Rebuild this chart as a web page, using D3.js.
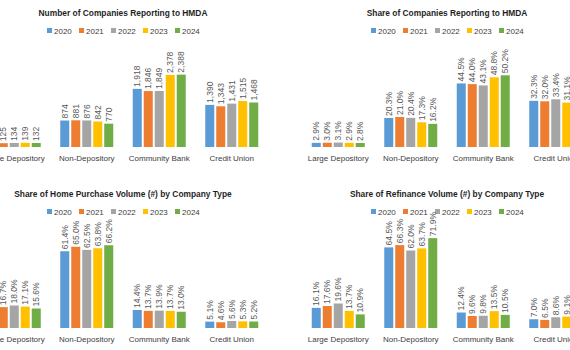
<!DOCTYPE html>
<html>
<head>
<meta charset="utf-8">
<script src="https://cdn.jsdelivr.net/npm/d3@7"></script>
<style>
  body { margin: 0; background: #fff; }
  svg { display: block; font-family: 'Liberation Sans', Arial, sans-serif; }
</style>
</head>
<body>
<svg id="chart" width="570" height="350"></svg>
<script>
// categories and years shared by all four charts
const categories = ['Large Depository', 'Non-Depository', 'Community Bank', 'Credit Union']
const years = ['2020', '2021', '2022', '2023', '2024']
const yearColors = ['#5B9BD5', '#ED7D31', '#A5A5A5', '#FFC000', '#70AD47']

// values per category, one entry per year
const companyCounts = [
  [124, 125, 134, 139, 132],
  [874, 881, 876, 842, 770],
  [1918, 1846, 1849, 2378, 2388],
  [1390, 1343, 1431, 1515, 1468],
]
const companyShares = [
  [2.9, 3.0, 3.1, 2.9, 2.8],
  [20.3, 21.0, 20.4, 17.3, 16.2],
  [44.5, 44.0, 43.1, 48.8, 50.2],
  [32.3, 32.0, 33.4, 31.1, 30.9],
]
const purchaseShares = [
  [19.1, 16.7, 18.0, 17.1, 15.6],
  [61.4, 65.0, 62.5, 63.8, 66.2],
  [14.4, 13.7, 13.9, 13.7, 13.0],
  [5.1, 4.6, 5.6, 5.3, 5.2],
]
const refinanceShares = [
  [16.1, 17.6, 19.6, 13.7, 10.9],
  [64.5, 66.3, 62.0, 63.7, 71.9],
  [12.4, 9.6, 9.8, 13.5, 10.5],
  [7.0, 6.5, 8.6, 9.1, 6.7],
]

const titles = [
  'Number of Companies Reporting to HMDA',
  'Share of Companies Reporting to HMDA',
  'Share of Home Purchase Volume (#) by Company Type',
  'Share of Refinance Volume (#) by Company Type',
]

function makeCharts() {
  const svg = d3.select('#chart')

  const pct = v => d3.format('.1f')(v) + '%'
  // the four panels, laid out 2x2 (the picture is a crop, so panels
  // run off the left and right edges)
  const panels = [
    { title: titles[0], values: companyCounts, max: 3300, fmt: d3.format(','), dx: 0, dy: 0 },
    { title: titles[1], values: companyShares, max: 70, fmt: pct, dx: 324, dy: 0 },
    { title: titles[2], values: purchaseShares, max: 80, fmt: pct, dx: 0, dy: 181 },
    { title: titles[3], values: refinanceShares, max: 80, fmt: pct, dx: 324, dy: 181 },
  ]

  // shared panel geometry
  const plotLeft = -22
  const plotRight = 268
  const baseline = 147
  const plotHeight = 100
  const center = (plotLeft + plotRight) / 2

  panels.forEach(p => {
    const g = svg.append('g').attr('transform', `translate(${p.dx},${p.dy})`)

    const x = d3.scaleBand().domain(categories).range([plotLeft, plotRight])
    const xi = d3.scaleBand().domain(years).range([-26.5, 26.5]).paddingInner(0.18)
    const y = d3.scaleLinear().domain([0, p.max]).range([baseline, baseline - plotHeight])

    // title
    g.append('text')
      .attr('x', center)
      .attr('y', 15.5)
      .attr('text-anchor', 'middle')
      .attr('font-size', 8.4)
      .attr('font-weight', 'bold')
      .attr('fill', '#1f1f1f')
      .text(p.title)

    // legend
    const itemW = 32
    const legend = g.append('g')
      .attr('transform', `translate(${center - (itemW * years.length - 8) / 2},30.5)`)
    const items = legend.selectAll('g')
      .data(years)
      .join('g')
      .attr('transform', (d, i) => `translate(${i * itemW},0)`)
    items.append('rect')
      .attr('x', 0)
      .attr('y', -2.5)
      .attr('width', 5)
      .attr('height', 5)
      .attr('fill', (d, i) => yearColors[i])
    items.append('text')
      .attr('x', 7)
      .attr('y', 3)
      .attr('font-size', 8)
      .attr('fill', '#404040')
      .text(d => d)

    // bar groups
    const groups = g.selectAll('.group')
      .data(categories)
      .join('g')
      .attr('class', 'group')
      .attr('transform', d => `translate(${x(d) + x.bandwidth() / 2},0)`)

    const cells = (d, ci) => p.values[ci].map((v, yi) => ({ v, year: years[yi], yi }))

    groups.selectAll('rect')
      .data(cells)
      .join('rect')
      .attr('x', d => xi(d.year))
      .attr('y', d => y(d.v))
      .attr('width', xi.bandwidth())
      .attr('height', d => baseline - y(d.v))
      .attr('fill', d => yearColors[d.yi])

    // rotated value labels
    groups.selectAll('.val')
      .data(cells)
      .join('text')
      .attr('class', 'val')
      .attr('transform', d => `translate(${xi(d.year) + xi.bandwidth() / 2},${y(d.v) - 2}) rotate(-90)`)
      .attr('dy', '0.35em')
      .attr('font-size', 8.5)
      .attr('fill', '#595959')
      .text(d => p.fmt(d.v))

    // category labels
    groups.append('text')
      .attr('y', 161)
      .attr('text-anchor', 'middle')
      .attr('font-size', 8)
      .attr('fill', '#404040')
      .text(d => d)
  })
}

window.onload = makeCharts
</script>
</body>
</html>
